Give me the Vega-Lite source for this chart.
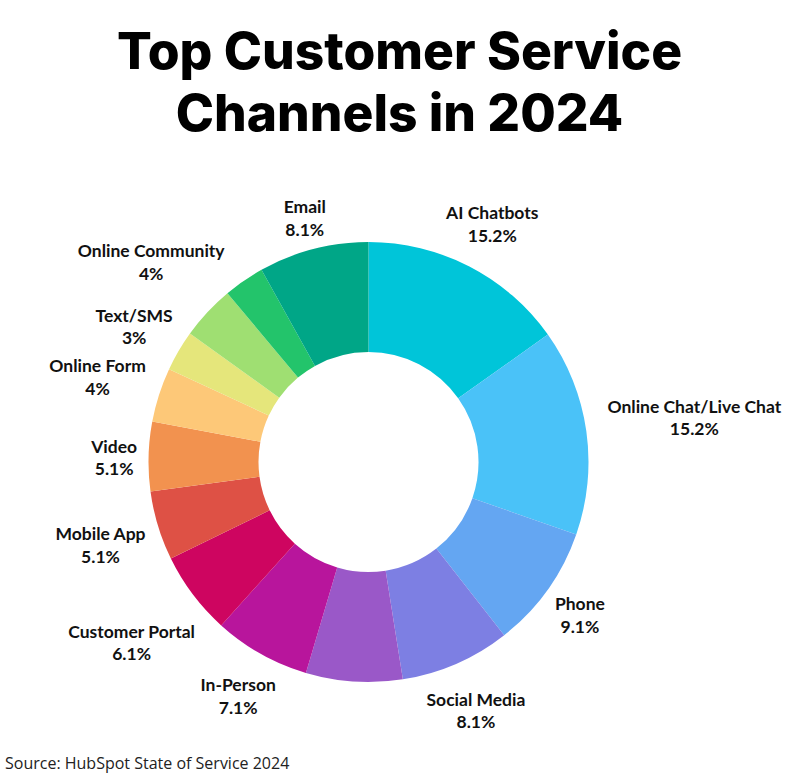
{
  "$schema": "https://vega.github.io/schema/vega-lite/v6.json",
  "autosize": {"type": "pad"},
  "padding": {"left": 0, "top": 27, "right": 0, "bottom": 5},
  "background": "white",
  "config": {"view": {"stroke": null}, "concat": {"spacing": 0}},
  "title": {
    "text": ["Top Customer Service", "Channels in 2024"],
    "font": "Inter",
    "fontWeight": 800,
    "fontSize": 51.5,
    "lineHeight": 62,
    "color": "#000000",
    "anchor": "middle",
    "frame": "group",
    "dx": 31,
    "offset": 58
  },
  "vconcat": [
    {
      "width": 737,
      "height": 440,
      "title": {
        "text": "Source: HubSpot State of Service 2024",
        "orient": "bottom",
        "anchor": "start",
        "frame": "group",
        "font": "Open Sans",
        "fontSize": 16,
        "fontWeight": "normal",
        "color": "#222222",
        "offset": 24,
        "dx": 5
      },
      "data": {
        "values": [
          {"channel": "AI Chatbots", "value": 15.2, "shown": true},
          {"channel": "Online Chat/Live Chat", "value": 15.2, "shown": true},
          {"channel": "Phone", "value": 9.1, "shown": true},
          {"channel": "Social Media", "value": 8.1, "shown": true},
          {"channel": "Unlabelled (purple)", "value": 7.1, "shown": false},
          {"channel": "In-Person", "value": 7.1, "shown": true},
          {"channel": "Customer Portal", "value": 6.1, "shown": true},
          {"channel": "Mobile App", "value": 5.1, "shown": true},
          {"channel": "Video", "value": 5.1, "shown": true},
          {"channel": "Online Form", "value": 4, "shown": true},
          {"channel": "Text/SMS", "value": 3, "shown": true},
          {"channel": "Online Community", "value": 4, "shown": true},
          {"channel": "Unlabelled (green)", "value": 3, "shown": false},
          {"channel": "Email", "value": 8.1, "shown": true}
        ]
      },
      "transform": [
        {"window": [{"op": "row_number", "as": "idx"}]},
        {"joinaggregate": [{"op": "sum", "field": "value", "as": "total"}]},
        {"calculate": "datum.shown ? datum.channel + '\\n' + format(datum.value, '') + '%' : ''", "as": "label"}
      ],
      "encoding": {
        "theta": {"field": "value", "type": "quantitative", "stack": true},
        "order": {"field": "idx", "type": "quantitative"}
      },
      "layer": [
        {
          "mark": {"type": "arc", "innerRadius": 110, "outerRadius": 220},
          "encoding": {
            "color": {
              "field": "channel",
              "type": "nominal",
              "legend": null,
              "scale": {
                "domain": ["AI Chatbots", "Online Chat/Live Chat", "Phone", "Social Media", "Unlabelled (purple)", "In-Person", "Customer Portal", "Mobile App", "Video", "Online Form", "Text/SMS", "Online Community", "Unlabelled (green)", "Email"],
                "range": ["#00C5D9", "#4AC2F8", "#64A6F2", "#7D7FE3", "#9A58C8", "#B8159C", "#CE0560", "#DE5145", "#F2924F", "#FDC878", "#E5E67B", "#9FDF72", "#23C46B", "#00A687"]
              }
            }
          }
        },
        {
          "mark": {
            "type": "text",
            "font": "Lato",
            "fontWeight": "bold",
            "fontSize": 17.5,
            "lineBreak": "\n",
            "lineHeight": 22.7,
            "align": "center",
            "baseline": "middle",
            "dy": -8,
            "color": "#111111",
            "radius": {"expr": "231 + abs(sin(PI*(datum.value_start+datum.value_end)/datum.total))*4.6*max(length(datum.channel), 4) + abs(cos(PI*(datum.value_start+datum.value_end)/datum.total))*17.5"}
          },
          "encoding": {
            "text": {"field": "label", "type": "nominal"}
          }
        }
      ]
    }
  ]
}
